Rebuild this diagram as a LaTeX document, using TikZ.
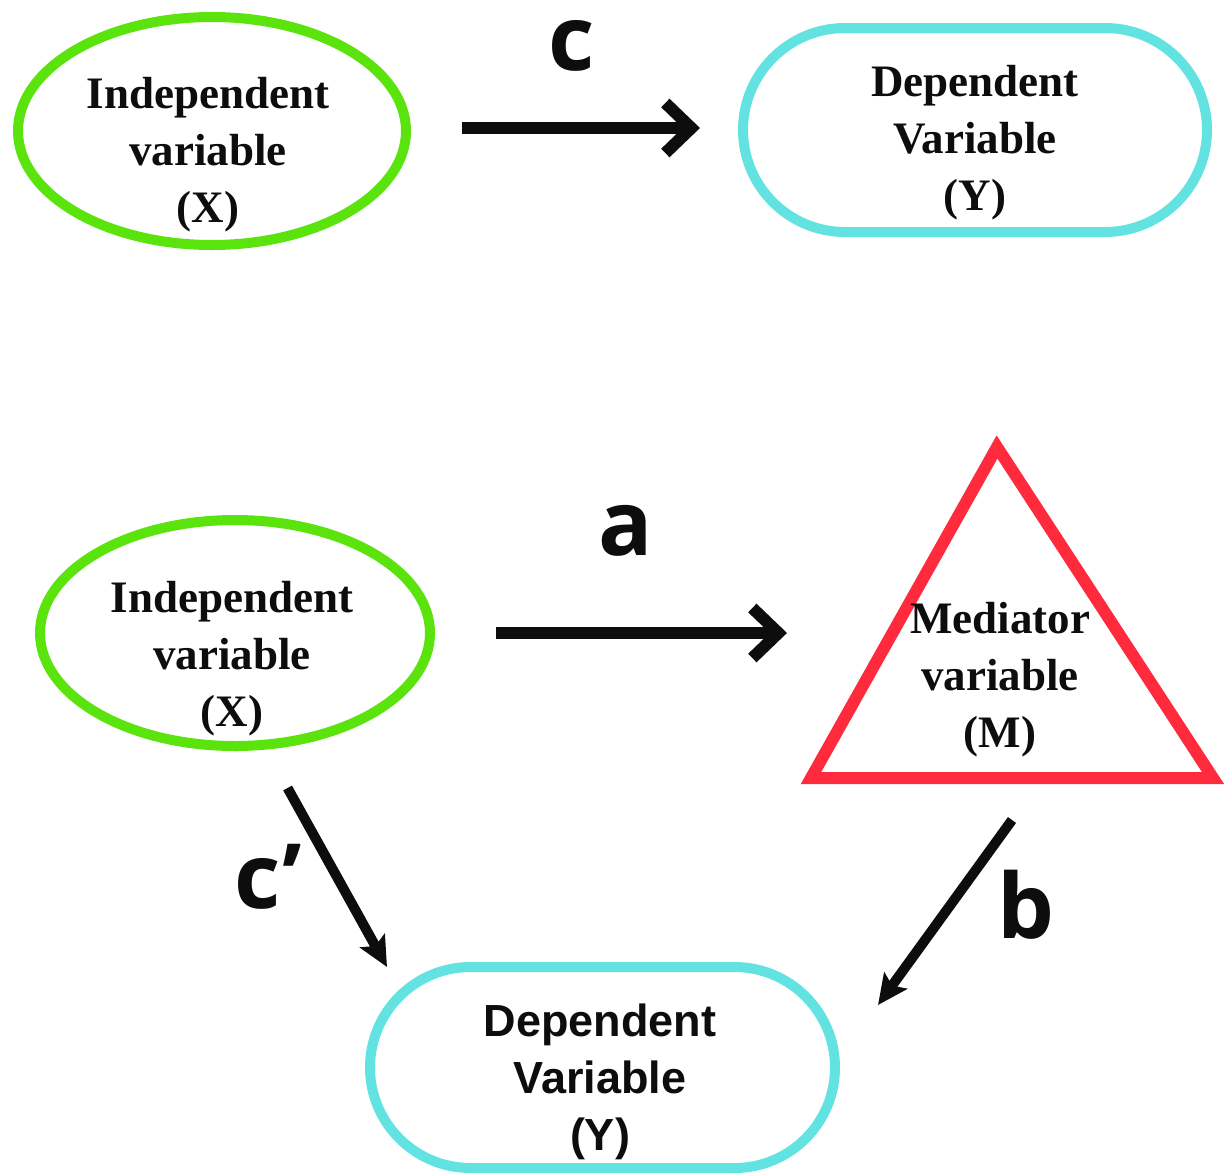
\documentclass[tikz,border=0pt]{standalone}
\usepackage{fontspec}
\setmainfont{Liberation Serif}
\newfontfamily\arialb{Liberation Sans}
\newfontfamily\lblf{Open Sans}
\usetikzlibrary{arrows.meta,shapes.geometric}
\definecolor{igreen}{HTML}{5AE30D}
\definecolor{dcyan}{HTML}{62E3E1}
\definecolor{mred}{HTML}{FF2B3D}
\definecolor{ink}{HTML}{0D0D0D}
\begin{document}
\begin{tikzpicture}[x=1pt,y=-1pt,
  ivar/.style={ellipse, draw=igreen, line width=10pt, minimum width=388pt, minimum height=228pt, inner sep=0pt},
  dvar/.style={rectangle, draw=dcyan, line width=10pt, minimum width=464pt, inner sep=0pt},
  seriftxt/.style={align=center, font=\fontsize{45}{57}\selectfont\bfseries, text=ink, inner sep=0pt},
  sanstxt/.style={align=center, font=\arialb\fontsize{45}{57}\selectfont\bfseries, text=ink, inner sep=0pt},
  pathlbl/.style={font=\lblf\fontsize{90}{90}\selectfont\bfseries, text=ink, inner sep=0pt, anchor=base},
  barbarrow/.style={draw=ink, line width=12pt, -{Straight Barb[length=26pt, width=50pt, line width=12pt]}},
  fillarrow/.style={draw=ink, line width=10pt, -{Stealth[length=30pt, width=28pt, inset=6pt]}}
]
\useasboundingbox (0,0) rectangle (1228,1173);
% top row
\node[ivar] (X1) at (212,131) {};
\node[seriftxt] (X1t) at (208,155) {Independent\\variable\\(X)};
\node[dvar, minimum height=204pt, rounded corners=102pt] (Y1) at (975,130) {};
\node[seriftxt] (Y1t) at (975,142.5) {Dependent\\Variable\\(Y)};
\draw[barbarrow, shorten <=51pt, shorten >=38pt] ([yshift=3pt]X1.east) -- ([yshift=2pt]Y1.west);
\node[pathlbl] (lc) at (572,70) {c};
% bottom row
\node[ivar, minimum width=390pt, minimum height=226pt] (X2) at (235,633) {};
\node[seriftxt] (X2t) at (232,658.5) {Independent\\variable\\(X)};
\coordinate (tA) at (997,447);
\coordinate (tL) at (811,778);
\coordinate (tR) at (1213,778);
\draw[draw=mred, line width=12pt, line join=miter] (tA) -- (tL) -- (tR) -- cycle;
\node[seriftxt] (Mt) at (1000,679.5) {Mediator\\variable\\(M)};
\node[dvar, minimum width=465pt, minimum height=201pt, rounded corners=100.5pt] (Y2) at (602.5,1067.5) {};
\node[sanstxt] (Y2t) at (600,1082) {Dependent\\Variable\\(Y)};
\coordinate (aTip) at (787,633);
\draw[barbarrow, shorten <=61pt] (X2.east) -- (aTip);
\node[pathlbl] (la) at (626,555) {a};
\coordinate (cpTip) at (387,967);
\draw[fillarrow, shorten <=44pt] (X2.-75) -- (cpTip);
\node[pathlbl] (lcp) at (268,908) {c’};
\coordinate (bTail) at (1012,820);
\coordinate (bTip) at (878,1005);
\draw[fillarrow] (bTail) -- (bTip);
\node[pathlbl] (lb) at (1026,938) {b};
\end{tikzpicture}
\end{document}
